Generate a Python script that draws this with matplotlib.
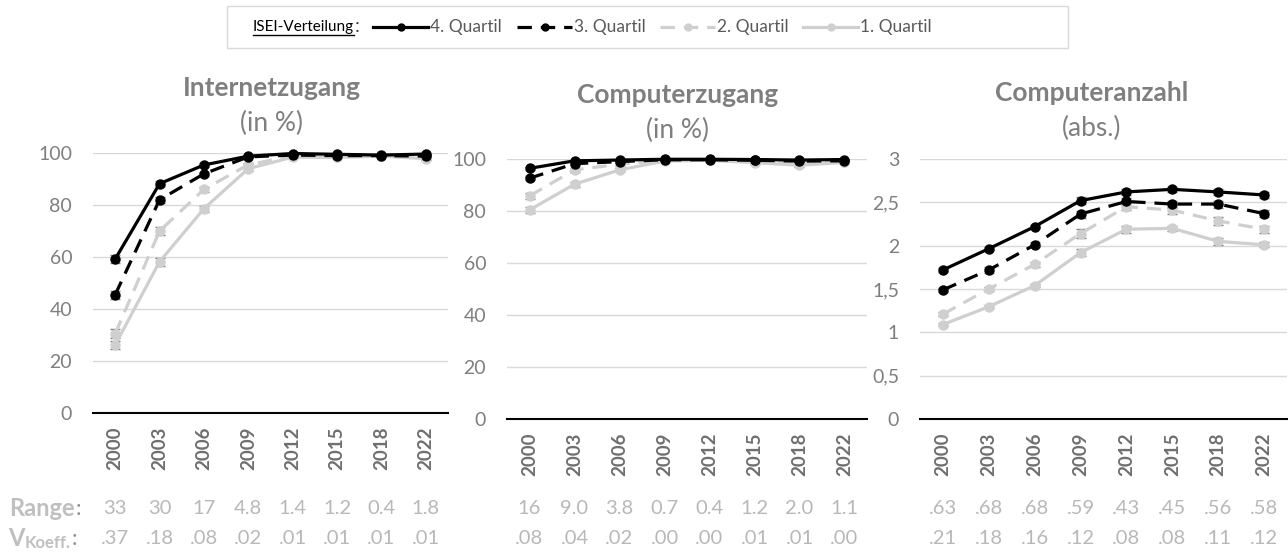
import matplotlib
matplotlib.use("Agg")
import matplotlib.pyplot as plt
from matplotlib import transforms
from matplotlib.lines import Line2D
from matplotlib.patches import Rectangle
import numpy as np

plt.rcParams['font.family'] = ['Lato', 'DejaVu Sans']

years = ['2000', '2003', '2006', '2009', '2012', '2015', '2018', '2022']
quartiles = ['4. Quartil', '3. Quartil', '2. Quartil', '1. Quartil']

# Internetzugang (in %)
inet_q4 = [59.2, 88.2, 95.4, 98.8, 99.8, 99.5, 99.2, 99.6]
inet_q3 = [45.5, 82.0, 92.0, 98.5, 99.2, 99.0, 99.0, 98.8]
inet_q2 = [30.5, 70.0, 86.0, 95.5, 98.8, 98.6, 98.9, 97.9]
inet_q1 = [26.2, 58.2, 78.6, 94.0, 98.4, 98.3, 98.8, 97.8]
inet_err = [[1.5, 1.0, 0.6, 0.4, 0.3, 0.3, 0.3, 0.3],
            [1.6, 1.2, 0.8, 0.4, 0.3, 0.3, 0.3, 0.3],
            [1.7, 1.4, 1.0, 0.6, 0.4, 0.4, 0.4, 0.4],
            [1.5, 1.5, 1.2, 0.8, 0.4, 0.4, 0.4, 0.5]]

# Computerzugang (in %)
comp_q4 = [96.4, 99.3, 99.6, 99.9, 99.9, 99.8, 99.6, 99.8]
comp_q3 = [92.6, 98.2, 99.0, 99.7, 99.7, 99.5, 99.2, 99.3]
comp_q2 = [85.8, 95.8, 98.0, 99.5, 99.7, 99.2, 99.0, 98.8]
comp_q1 = [80.4, 90.3, 95.8, 99.2, 99.5, 98.6, 97.6, 98.7]
comp_err = [[0.6, 0.4, 0.3, 0.2, 0.2, 0.2, 0.3, 0.2],
            [0.8, 0.5, 0.4, 0.2, 0.2, 0.3, 0.4, 0.3],
            [1.0, 0.7, 0.5, 0.3, 0.2, 0.3, 0.5, 0.4],
            [1.2, 0.9, 0.6, 0.3, 0.3, 0.4, 0.8, 0.4]]

# Computeranzahl (abs.)
anz_q4 = [1.72, 1.965, 2.22, 2.52, 2.62, 2.65, 2.62, 2.585]
anz_q3 = [1.49, 1.72, 2.01, 2.365, 2.51, 2.48, 2.48, 2.37]
anz_q2 = [1.21, 1.50, 1.785, 2.14, 2.45, 2.41, 2.285, 2.19]
anz_q1 = [1.09, 1.296, 1.54, 1.92, 2.19, 2.20, 2.05, 2.01]
anz_err = [[0.02, 0.02, 0.02, 0.04, 0.03, 0.03, 0.03, 0.03],
           [0.02, 0.03, 0.03, 0.04, 0.04, 0.04, 0.04, 0.04],
           [0.02, 0.02, 0.03, 0.05, 0.04, 0.04, 0.05, 0.04],
           [0.02, 0.02, 0.02, 0.04, 0.04, 0.03, 0.04, 0.03]]

inet_range = ['33', '30', '17', '4.8', '1.4', '1.2', '0.4', '1.8']
inet_vk = ['.37', '.18', '.08', '.02', '.01', '.01', '.01', '.01']
comp_range = ['16', '9.0', '3.8', '0.7', '0.4', '1.2', '2.0', '1.1']
comp_vk = ['.08', '.04', '.02', '.00', '.00', '.01', '.01', '.00']
anz_range = ['.63', '.68', '.68', '.59', '.43', '.45', '.56', '.58']
anz_vk = ['.21', '.18', '.16', '.12', '.08', '.08', '.11', '.12']

LIGHT = '#cfcfcf'
GRAY = '#7f7f7f'
DASH = (0, (4.5, 2.8))
styles = [dict(color='black', ls='-'),
          dict(color='black', ls=DASH),
          dict(color=LIGHT, ls=DASH),
          dict(color=LIGHT, ls='-')]

W, H = 1288, 555
fig = plt.figure(figsize=(W / 100, H / 100), dpi=100)


def px(x0, y0, x1, y1):
    return [x0 / W, 1 - y1 / H, (x1 - x0) / W, (y1 - y0) / H]


panels = [
    dict(rect=px(93, 153, 448, 413), series=[inet_q4, inet_q3, inet_q2, inet_q1], err=inet_err,
         ylim=100, ticks=[0, 20, 40, 60, 80, 100], tl=['0', '20', '40', '60', '80', '100'],
         title='Internetzugang', sub='(in %)', tx=272, ty=88, rng=inet_range, vk=inet_vk),
    dict(rect=px(507, 159, 867, 419), series=[comp_q4, comp_q3, comp_q2, comp_q1], err=comp_err,
         ylim=100, ticks=[0, 20, 40, 60, 80, 100], tl=['0', '20', '40', '60', '80', '100'],
         title='Computerzugang', sub='(in %)', tx=678, ty=95, rng=comp_range, vk=comp_vk),
    dict(rect=px(920, 159, 1287, 419), series=[anz_q4, anz_q3, anz_q2, anz_q1], err=anz_err,
         ylim=3, ticks=[0, 0.5, 1, 1.5, 2, 2.5, 3], tl=['0', '0,5', '1', '1,5', '2', '2,5', '3'],
         title='Computeranzahl', sub='(abs.)', tx=1092, ty=93, rng=anz_range, vk=anz_vk),
]

x = np.arange(len(years))
for p in panels:
    ax = fig.add_axes(p['rect'])
    ax.set_xlim(-0.5, len(years) - 0.5)
    ax.set_ylim(0, p['ylim'])
    ax.set_yticks(p['ticks'])
    ax.set_yticklabels(p['tl'])
    ax.set_xticks(x)
    ax.set_xticklabels(years, rotation=90, fontweight='bold')
    ax.tick_params(axis='y', length=0, pad=15, labelsize=14, labelcolor=GRAY)
    ax.tick_params(axis='x', length=0, pad=10, labelsize=13.5, labelcolor='#6f6f6f')
    ax.grid(axis='y', color='#d9d9d9', lw=1)
    ax.set_axisbelow(True)
    for s in ['top', 'right', 'left']:
        ax.spines[s].set_visible(False)
    ax.spines['bottom'].set_color('black')
    ax.spines['bottom'].set_linewidth(1.5)
    ax.patch.set_alpha(0)
    # 1. Quartil first so the black lines sit on top
    for i in [3, 2, 1, 0]:
        vals = p['series'][i]
        st = styles[i]
        ax.errorbar(x, vals, yerr=p['err'][i], fmt='none', ecolor=GRAY, elinewidth=1,
                    capsize=3.5, capthick=1, zorder=3 + i * 0.1)
        ax.plot(x, vals, color=st['color'], ls=st['ls'], lw=2.3, marker='o', ms=6.5,
                zorder=4 + (3 - i), clip_on=False)
    fig.text(p['tx'] / W, 1 - p['ty'] / H, p['title'], ha='center', va='center',
             fontsize=19, fontweight='bold', color=GRAY)
    fig.text(p['tx'] / W, 1 - (p['ty'] + 35) / H, p['sub'], ha='center', va='center',
             fontsize=19, color=GRAY)
    tr = transforms.blended_transform_factory(ax.transData, fig.transFigure)
    for i in range(len(years)):
        ax.text(x[i], 1 - 509 / H, p['rng'][i], transform=tr, ha='center', va='center',
                fontsize=14.5, color='#b8b8b8')
        ax.text(x[i], 1 - 539 / H, p['vk'][i], transform=tr, ha='center', va='center',
                fontsize=14.5, color='#b8b8b8')

fig.canvas.draw()
r = fig.canvas.get_renderer()

# row labels
t = fig.text(9 / W, 1 - 509 / H, 'Range', ha='left', va='center', fontsize=17,
             fontweight='bold', color='#bfbfbf')
bb = t.get_window_extent(r)
fig.text(bb.x1 / W + 1 / W, 1 - 509 / H, ':', ha='left', va='center', fontsize=16, color='#8c8c8c')
tv = fig.text(8 / W, 1 - 539 / H, 'V', ha='left', va='center', fontsize=17,
              fontweight='bold', color='#bfbfbf')
bv = tv.get_window_extent(r)
tk = fig.text(bv.x1 / W, 1 - 543 / H, 'Koeff.', ha='left', va='center', fontsize=12,
              fontweight='bold', color='#bfbfbf')
bk = tk.get_window_extent(r)
fig.text(bk.x1 / W + 1 / W, 1 - 539 / H, ':', ha='left', va='center', fontsize=16, color='#8c8c8c')

# legend box
fig.patches.append(Rectangle((227 / W, 1 - 48 / H), 841 / W, 42 / H, transform=fig.transFigure,
                             fill=False, edgecolor='#d9d9d9', lw=1))
ly = 1 - 27 / H
ti = fig.text(253 / W, ly, 'ISEI-Verteilung', ha='left', va='center', fontsize=11, color='black')
bi = ti.get_window_extent(r)
fig.lines.append(Line2D([bi.x0 / W, bi.x1 / W], [bi.y0 / H - 1 / H, bi.y0 / H - 1 / H],
                        transform=fig.transFigure, color='black', lw=1))
fig.text(bi.x1 / W + 1 / W, ly, ':', ha='left', va='center', fontsize=14, color='#404040')

leg_x = [373, 517, 660, 803]
for i in range(4):
    st = styles[i]
    x0 = leg_x[i]
    fig.lines.append(Line2D([x0 / W, (x0 + 55) / W], [ly, ly], transform=fig.transFigure,
                            color=st['color'], ls=st['ls'], lw=2.3))
    fig.lines.append(Line2D([(x0 + 27.5) / W], [ly], transform=fig.transFigure,
                            color=st['color'], marker='o', ms=5, ls='none'))
    fig.text((x0 + 57) / W, ly, quartiles[i], ha='left', va='center', fontsize=12.5,
             color='#595959')

fig.savefig('out.png', dpi=100)
